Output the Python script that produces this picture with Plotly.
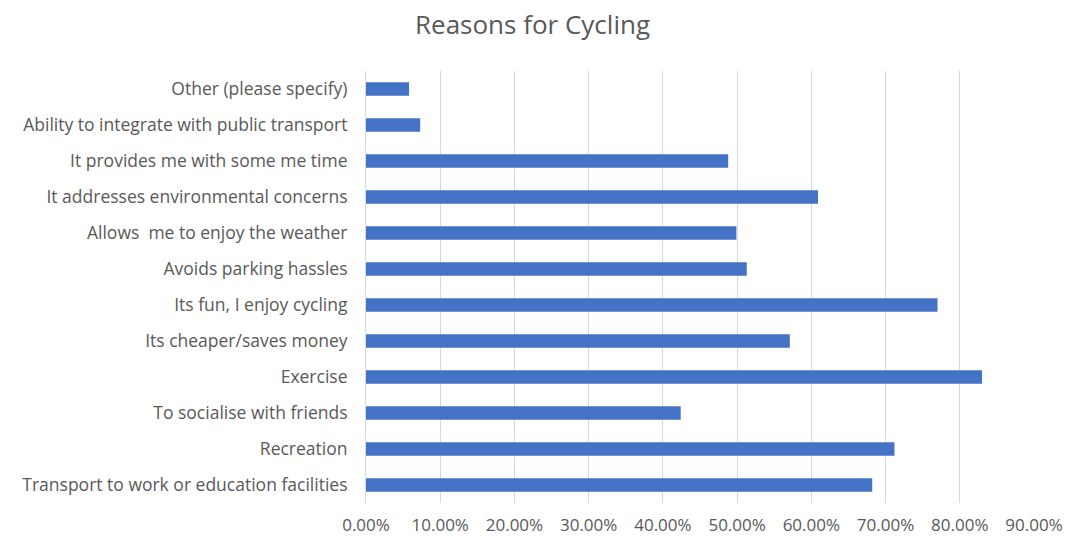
import plotly.graph_objects as go

categories = [
    "Other (please specify)",
    "Ability to integrate with public transport",
    "It provides me with some me time",
    "It addresses environmental concerns",
    "Allows  me to enjoy the weather",
    "Avoids parking hassles",
    "Its fun, I enjoy cycling",
    "Its cheaper/saves money",
    "Exercise",
    "To socialise with friends",
    "Recreation",
    "Transport to work or education facilities",
]
values = [0.058, 0.073, 0.488, 0.609, 0.499, 0.513, 0.770, 0.571, 0.830, 0.424, 0.712, 0.682]
tick_vals = [0, 0.1, 0.2, 0.3, 0.4, 0.5, 0.6, 0.7, 0.8, 0.9]
tick_text = ["0.00%", "10.00%", "20.00%", "30.00%", "40.00%", "50.00%", "60.00%", "70.00%", "80.00%", "90.00%"]

fig = go.Figure(go.Bar(
    x=values, y=categories, orientation="h",
    marker=dict(color="#4472C4", line=dict(width=0)),
    width=0.37,
))

fig.update_layout(
    width=1065, height=539,
    margin=dict(l=366, r=31, t=71, b=36),
    paper_bgcolor="white", plot_bgcolor="white",
    font=dict(family="Open Sans", size=14, color="#595959"),
    title=dict(text="Reasons for Cycling", x=0.5, xanchor="center", y=0.953, yanchor="middle",
               font=dict(family="Open Sans", size=26, color="#595959")),
    showlegend=False,
)
fig.update_xaxes(
    range=[0, 0.9], tickvals=tick_vals, ticktext=tick_text,
    showgrid=True, gridcolor="#D9D9D9", gridwidth=1, zeroline=False,
    showline=False, ticks="", ticklabelstandoff=10, automargin=False,
    tickfont=dict(size=17, color="#595959"),
)
fig.update_yaxes(
    autorange="reversed", showgrid=False, zeroline=False,
    showline=True, linecolor="#D9D9D9", linewidth=1, ticks="", automargin=False,
    ticklabelstandoff=14, tickfont=dict(size=17.5, color="#595959"),
)

fig.write_html("out.html")
